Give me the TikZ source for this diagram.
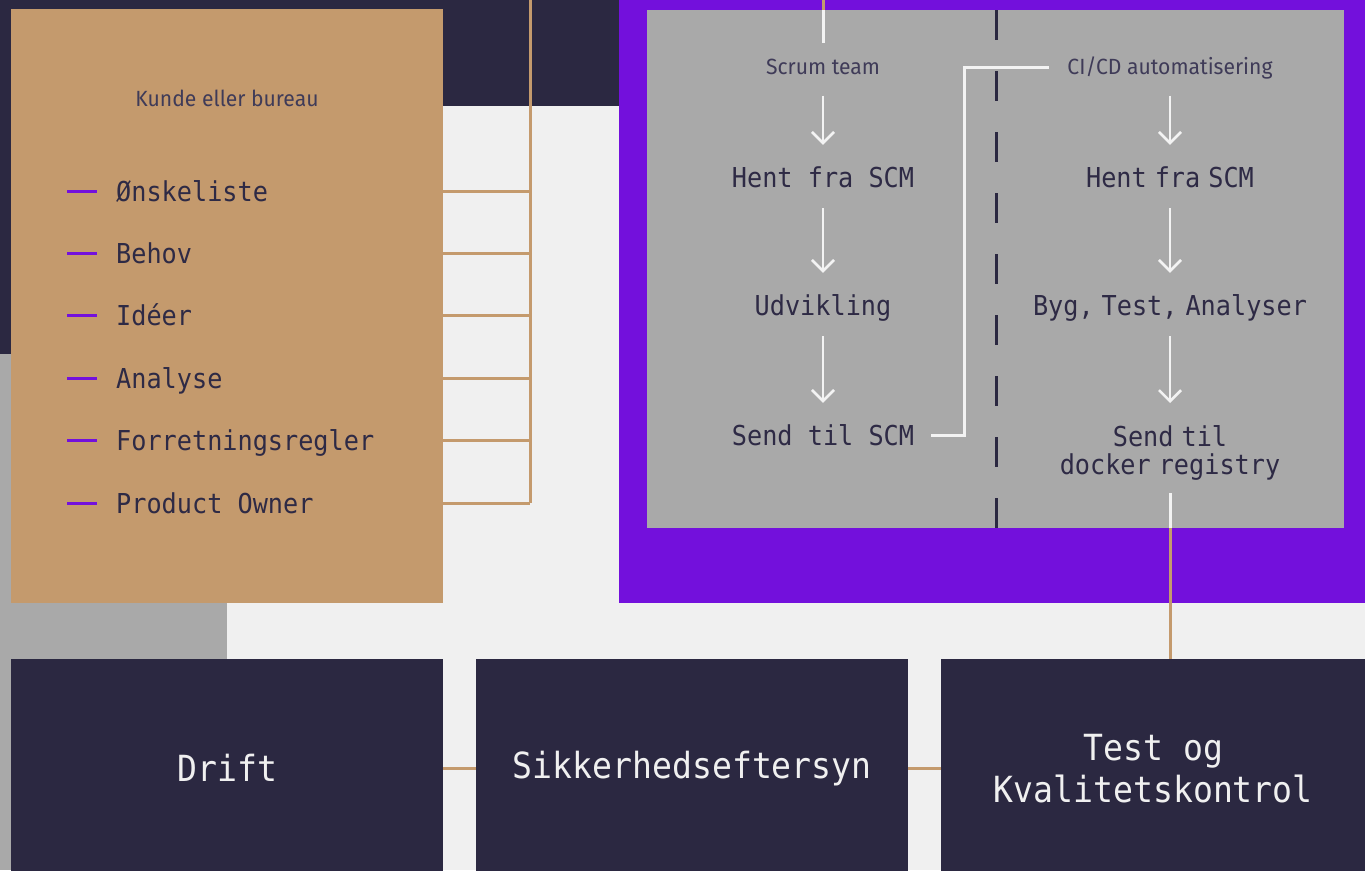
\documentclass[tikz,border=0pt]{standalone}
\usepackage{fontspec}
\setmainfont{Fira Sans}
\newfontfamily\monofont[FakeStretch=0.92]{DejaVu Sans Mono}
\newfontfamily\smallfont[FakeStretch=0.96]{Fira Sans}
\usetikzlibrary{arrows.meta, positioning}
\definecolor{navy}{HTML}{2B2841}
\definecolor{sand}{HTML}{C49A6D}
\definecolor{lilla}{HTML}{7310DC}
\definecolor{panel}{HTML}{A9A9A9}
\definecolor{paper}{HTML}{F0F0F0}
\definecolor{ink}{HTML}{2E2A45}
\definecolor{inksoft}{HTML}{3F3B58}
\definecolor{chalk}{HTML}{F3F3F3}
\newcommand\narrowspace{\spaceskip=8pt\relax}

\begin{document}
\begin{tikzpicture}[x=1pt, y=-1pt,
    listtxt/.style={font=\monofont\fontsize{27.4}{30}\selectfont, text=ink, inner sep=0, text height=20pt, text depth=0pt},
    flowtxt/.style={listtxt},
    citxt/.style={listtxt, execute at begin node=\narrowspace},
    smalltxt/.style={font=\smallfont\fontsize{22}{24}\selectfont, text=inksoft, inner sep=0, text height=15pt, text depth=0pt},
    bigbox/.style={fill=navy, text=paper, inner sep=0, anchor=north west, minimum height=218pt, align=center,
                   font=\monofont\fontsize{36}{42}\selectfont},
    sandline/.style={draw=sand, line width=3pt},
    wline/.style={draw=chalk, line width=3pt},
    flowarrow/.style={draw=chalk, line width=2.6pt, -{Straight Barb[length=11pt, width=22pt]},
                      shorten <=21pt, shorten >=22pt}]
  % backdrop
  \useasboundingbox (0,0) rectangle (1365,870);
  \fill[paper] (0,0) rectangle (1365,870);
  \fill[navy] (0,0) rectangle (620,106);
  \fill[navy] (0,0) rectangle (227,354);
  \fill[panel] (0,354) rectangle (227,870);

  % kunde
  \node[fill=sand, minimum width=432pt, minimum height=594pt, inner sep=0, anchor=north west] (kunde) at (11,9) {};
  \node[smalltxt] (kundetitle) at (227,99) {Kunde eller bureau};
  \coordinate (bus) at (530,0);
  \foreach \t [count=\i] in {Ønskeliste, Behov, Idéer, Analyse, Forretningsregler, Product Owner} {
    \node[listtxt, anchor=west] (item\i) at (116, {191+62.4*(\i-1)}) {\t};
    \draw[lilla, line width=3pt] ([xshift=-49pt]item\i.west) -- ([xshift=-19pt]item\i.west);
    \draw[sandline] (kunde.east |- item\i.west) -- (bus |- item\i.west);
  }
  \draw[sandline] (bus) -- (bus |- item6.west);

  % scrum og ci/cd
  \node[fill=lilla, minimum width=746pt, minimum height=603pt, inner sep=0, anchor=north west] (frame) at (619,0) {};
  \node[fill=panel, minimum width=697pt, minimum height=518pt, inner sep=0, anchor=north west] (inner) at (647,10) {};
  \coordinate (split) at (996,0);
  \draw[navy, line width=3pt, dash pattern=on 30pt off 31pt] (inner.north -| split) -- (inner.south -| split);

  \node[smalltxt] (sc) at (823,67) {Scrum team};
  \node[flowtxt] (h1) at (823,177) {Hent fra SCM};
  \node[flowtxt] (u1) at (823,305) {Udvikling};
  \node[flowtxt] (s1) at (823,435) {Send til SCM};

  \node[smalltxt] (ci) at (1170,67) {CI/CD automatisering};
  \node[citxt] (h2) at (1170,177) {Hent fra SCM};
  \node[citxt] (b2) at (1170,305) {Byg, Test, Analyser};
  \node[citxt, text height=, text depth=, align=center, anchor=north, font=\monofont\fontsize{27.4}{28}\selectfont]
       (s2) at (1170,425) {Send til\\docker registry};

  \draw[sandline] (sc |- frame.north) -- (sc |- inner.north);
  \draw[wline, shorten >=16pt] (sc |- inner.north) -- (sc.north);
  \draw[flowarrow] (sc) -- (h1);
  \draw[flowarrow] (h1) -- (u1);
  \draw[flowarrow] (u1) -- (s1);
  \draw[flowarrow] (ci) -- (h2);
  \draw[flowarrow] (h2) -- (b2);
  \draw[flowarrow] (b2.south) -- (s2.north);
  \draw[wline] ([xshift=17pt]s1.east) -| ([xshift=-103pt]ci.west) -- ([xshift=-18pt]ci.west);

  % drift
  \node[bigbox, minimum width=432pt] (drift) at (11,659) {Drift};
  \node[bigbox, minimum width=432pt] (sikker) at (476,659) {Sikkerhedseftersyn};
  \node[bigbox, minimum width=424pt] (kvalitet) at (941,659) {Test og\\Kvalitetskontrol};
  \draw[sandline] (drift.east) -- (sikker.west);
  \draw[sandline] (sikker.east) -- (kvalitet.west);
  \draw[wline, shorten <=13pt] (s2.south) -- (s2.south |- inner.south);
  \draw[sandline] (s2.south |- inner.south) -- (kvalitet.north -| s2.south);
\end{tikzpicture}
\end{document}
